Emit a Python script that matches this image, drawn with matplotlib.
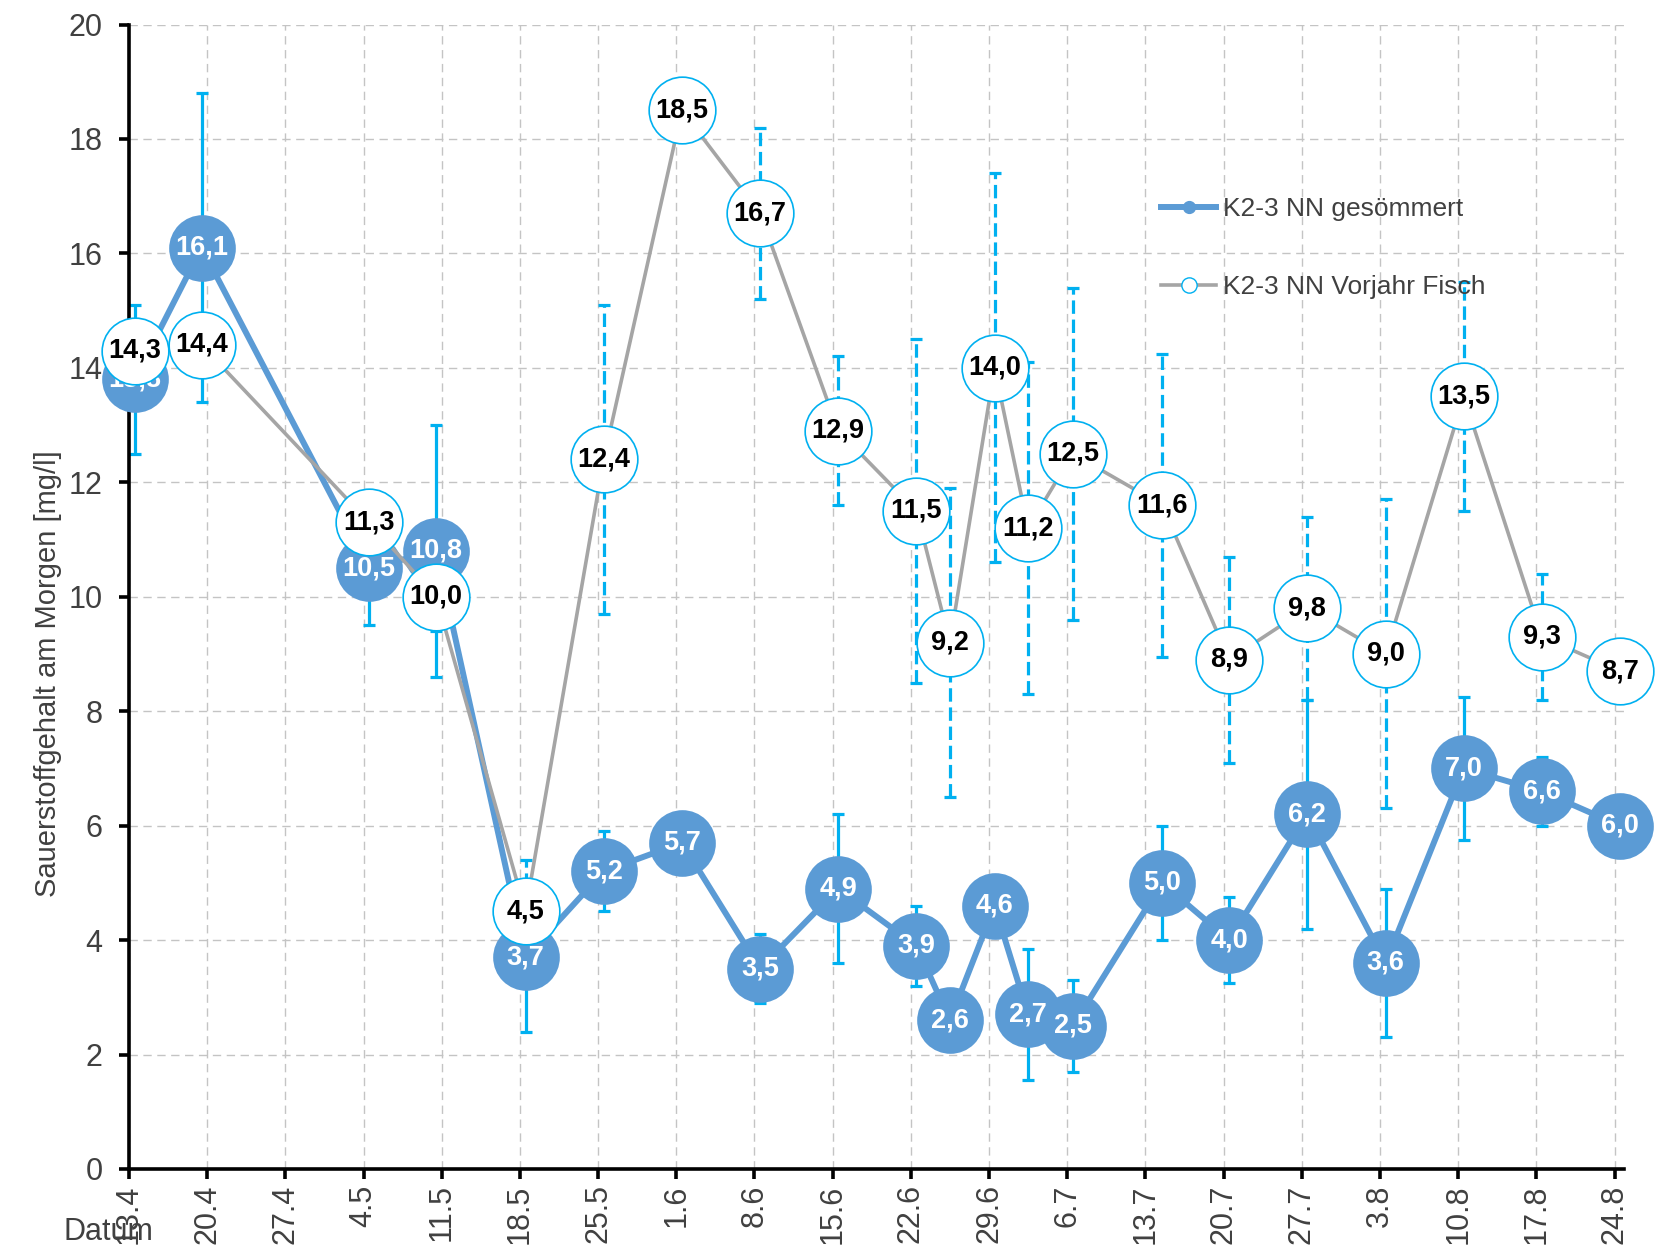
import datetime as dt
import matplotlib
matplotlib.use("Agg")
import matplotlib.pyplot as plt
import matplotlib.dates as mdates
from matplotlib.lines import Line2D
from matplotlib.ticker import FuncFormatter, MultipleLocator

plt.rcParams["font.family"] = ["Liberation Sans", "DejaVu Sans"]

YEAR = 2021

# sampling dates (day.month)
dates = ["13.4", "19.4", "4.5", "10.5", "18.5", "25.5", "1.6", "8.6", "15.6",
         "22.6", "25.6", "29.6", "2.7", "6.7", "14.7", "20.7", "27.7", "3.8",
         "10.8", "17.8", "24.8"]

# K2-3 NN gesömmert
gesoemmert = [13.8, 16.1, 10.5, 10.8, 3.7, 5.2, 5.7, 3.5, 4.9, 3.9, 2.6, 4.6,
              2.7, 2.5, 5.0, 4.0, 6.2, 3.6, 7.0, 6.6, 6.0]
gesoemmert_err = [1.3, 2.7, 1.0, 2.2, 1.3, 0.7, 0, 0.6, 1.3, 0.7, 0, 0,
                  1.15, 0.8, 1.0, 0.75, 2.0, 1.3, 1.25, 0.6, 0]

# K2-3 NN Vorjahr Fisch
vorjahr = [14.3, 14.4, 11.3, 10.0, 4.5, 12.4, 18.5, 16.7, 12.9, 11.5, 9.2, 14.0,
           11.2, 12.5, 11.6, 8.9, 9.8, 9.0, 13.5, 9.3, 8.7]
vorjahr_err = [0, 0, 0, 0.6, 0.9, 2.7, 0, 1.5, 1.3, 3.0, 2.7, 3.4,
               2.9, 2.9, 2.65, 1.8, 1.6, 2.7, 2.0, 1.1, 0]

tick_dates = ["13.4", "20.4", "27.4", "4.5", "11.5", "18.5", "25.5", "1.6",
              "8.6", "15.6", "22.6", "29.6", "6.7", "13.7", "20.7", "27.7",
              "3.8", "10.8", "17.8", "24.8"]

BLUE = "#5b9bd5"
CYAN = "#00b0f0"
GREY = "#a5a5a5"
TXT = "#404040"


def to_num(s):
    d, m = s.split(".")
    return mdates.date2num(dt.datetime(YEAR, int(m), int(d)))


# Excel date axis puts points in the middle of the day
x = [to_num(s) + 0.5 for s in dates]
ticks = [to_num(s) for s in tick_dates]


def fmt(v):
    return f"{v:.1f}".replace(".", ",")


fig = plt.figure(figsize=(16.73, 12.48), dpi=100)
ax = fig.add_axes([129 / 1673, 1 - 1169 / 1248, 1495 / 1673, (1169 - 24.5) / 1248])

# error bars (behind markers)
eb1 = ax.errorbar(x, gesoemmert, yerr=gesoemmert_err, fmt="none", ecolor=CYAN,
                  elinewidth=2.3, capsize=4, capthick=2.3, zorder=2)
eb2 = ax.errorbar(x, vorjahr, yerr=vorjahr_err, fmt="none", ecolor=CYAN,
                  elinewidth=2.3, capsize=4, capthick=2.3, zorder=2)
eb2[2][0].set_linestyle((0, (4.2, 1.8)))

ax.plot(x, gesoemmert, color=BLUE, lw=4.3, marker="o", ms=48, mfc=BLUE,
        mec=BLUE, mew=0, zorder=3, clip_on=False)
for xi, v in zip(x, gesoemmert):
    ax.text(xi, v, fmt(v), color="white", fontsize=19.5, fontweight="bold",
            ha="center", va="center", zorder=3.5)

ax.plot(x, vorjahr, color=GREY, lw=2.6, marker="o", ms=48, mfc="white",
        mec=CYAN, mew=1.2, zorder=4, clip_on=False)
for xi, v in zip(x, vorjahr):
    ax.text(xi, v, fmt(v), color="black", fontsize=19.5, fontweight="bold",
            ha="center", va="center", zorder=4.5)

ax.set_ylim(0, 20)
ax.set_xlim(ticks[0], ticks[-1] + 0.85)
ax.yaxis.set_major_locator(MultipleLocator(2))
ax.set_xticks(ticks)
ax.xaxis.set_major_formatter(FuncFormatter(
    lambda v, p: f"{mdates.num2date(v).day}.{mdates.num2date(v).month}"))

ax.grid(True, color="#c4c4c4", ls=(0, (6, 4)), lw=1.0, zorder=0)
ax.set_axisbelow(True)

for side in ["top", "right"]:
    ax.spines[side].set_visible(False)
for side in ["left", "bottom"]:
    ax.spines[side].set_linewidth(2.6)
    ax.spines[side].set_color("black")

ax.tick_params(axis="both", direction="out", length=7, width=2.6, colors="black",
               labelcolor=TXT, labelsize=22)
ax.tick_params(axis="y", pad=12)
ax.tick_params(axis="x", pad=4, labelrotation=90)

fig.text(48 / 1673, 1 - 674 / 1248, "Sauerstoffgehalt am Morgen [mg/l]",
         rotation=90, ha="center", va="center", fontsize=21, color=TXT)
fig.text(64 / 1673, 1 - 1232 / 1248, "Datum", ha="left", va="center",
         fontsize=22, color=TXT)

handles = [
    Line2D([], [], color=BLUE, lw=4.3, marker="o", ms=8.5, mfc=BLUE, mec=BLUE),
    Line2D([], [], color=GREY, lw=2.6, marker="o", ms=11, mfc="white",
           mec=CYAN, mew=1.0),
]
ax.legend(handles, ["K2-3 NN gesömmert", "K2-3 NN Vorjahr Fisch"],
          loc="upper left", bbox_to_anchor=(1161 / 1673, 1 - 197 / 1248),
          bbox_transform=fig.transFigure, frameon=False, fontsize=19,
          labelcolor=TXT, handlelength=2.1, handletextpad=0.25,
          labelspacing=2.05, borderpad=0, borderaxespad=0)

fig.savefig("out.png", dpi=100)
